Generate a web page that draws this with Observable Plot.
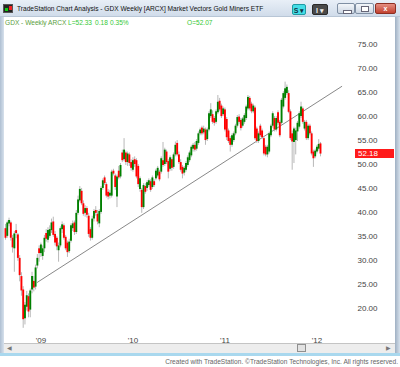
<!DOCTYPE html>
<html><head><meta charset="utf-8">
<script src="https://cdn.jsdelivr.net/npm/d3@7"></script>
<script src="https://cdn.jsdelivr.net/npm/@observablehq/plot@0.6"></script>
<style>
html,body{margin:0;padding:0;background:#fff;}
body{width:400px;height:367px;position:relative;overflow:hidden;font-family:"Liberation Sans",Arial,sans-serif;}
.abs{position:absolute;}
#titlebar{left:0;top:0;width:400px;height:17px;background:linear-gradient(#e8eff7,#d0dcea);border-bottom:1px solid #b8c6d6;box-sizing:border-box;}
#title{left:17px;top:1px;line-height:16px;font-size:6.6px;color:#111;white-space:nowrap;}
#icon{left:3px;top:4px;width:10px;height:9px;background:#222;border:1px solid #555;box-sizing:border-box;}
#icon:before{content:"";position:absolute;left:1px;top:3px;width:3px;height:3px;background:#1c1;}
#icon:after{content:"";position:absolute;left:5px;top:1px;width:3px;height:4px;background:#e22;}
.btn{top:4px;height:11px;border-radius:2px;font-size:7px;line-height:11px;text-align:center;font-weight:bold;box-sizing:border-box;}
#btnS{left:292px;width:14px;background:#45dde6;border:1px solid #1f9aa3;color:#134;}
#btnI{left:312px;width:16px;background:#4a4a4a;border:1px solid #2a2a2a;color:#eee;}
.win{top:3px;height:11px;border:1px solid #7f8fa3;border-radius:2px;box-sizing:border-box;background:linear-gradient(#f3f6fa,#cdd7e3);}
#wmin{left:337px;width:18px;}
#wmax{left:355px;width:19px;}
#wcls{left:375px;width:21px;background:linear-gradient(#e58f82,#c2412f);border-color:#8d2f22;color:#fff;font-size:7px;line-height:9px;text-align:center;font-weight:bold;}
#wmin:after{content:"";position:absolute;left:5px;top:6px;width:7px;height:2px;background:#fff;border:1px solid #667;}
#wmax:after{content:"";position:absolute;left:5px;top:2px;width:6px;height:4px;border:1px solid #667;background:#fff;}
#lframe{left:0;top:17px;width:4px;height:338px;background:linear-gradient(90deg,#aebfd2,#d7e1ec);}
#rframe{left:395px;top:17px;width:5px;height:338px;background:linear-gradient(90deg,#9fb0c3,#d7e1ec);}
.hdr{top:19px;font-size:6.6px;line-height:8px;white-space:nowrap;}
.sym{color:#5a9e3c;}
.val{color:#35c935;}
#chart{left:0;top:18px;width:395px;}
#scroll{left:4px;top:343px;width:391px;height:10px;background:#ededed;border-top:1px solid #c4c4c4;box-sizing:border-box;}
#thumb{left:297px;top:344px;width:9px;height:8px;background:#e2e2e2;border:1px solid #8f8f8f;box-sizing:border-box;}
.arr{top:343px;font-size:6px;line-height:10px;color:#777;}
#bline{left:0;top:353px;width:400px;height:3px;background:#a9d8ee;}
#footer{right:2px;top:357px;font-size:6.6px;line-height:10px;color:#666;white-space:nowrap;}
#lastlbl{left:355px;width:39px;height:9px;background:#ff1a1a;color:#fff;font-size:8px;line-height:9px;box-sizing:border-box;padding-left:3px;}
</style></head>
<body>
<div id="titlebar" class="abs"></div>
<div id="icon" class="abs"></div>
<div id="title" class="abs"></div>
<div id="btnS" class="abs btn">S ▾</div>
<div id="btnI" class="abs btn">I ▾</div>
<div id="wmin" class="abs win"></div>
<div id="wmax" class="abs win"></div>
<div id="wcls" class="abs win">x</div>
<div id="lframe" class="abs"></div>
<div id="rframe" class="abs"></div>
<div id="h1" class="abs hdr sym" style="left:5px;"></div>
<div id="h2" class="abs hdr sym" style="left:48px;"></div>
<div id="h3" class="abs hdr val" style="left:68px;"></div>
<div id="h4" class="abs hdr val" style="left:95px;"></div>
<div id="h5" class="abs hdr val" style="left:110px;"></div>
<div id="h6" class="abs hdr val" style="left:187px;"></div>
<div id="chart" class="abs"></div>
<div id="lastlbl" class="abs"></div>
<div id="scroll" class="abs"></div>
<div id="thumb" class="abs"></div>
<div class="abs arr" style="left:7px;">◀</div>
<div class="abs arr" style="left:386px;">▶</div>
<div id="bline" class="abs"></div>
<div id="footer" class="abs"></div>
<script>
const titleText = "TradeStation Chart Analysis - GDX Weekly [ARCX] Market Vectors Gold Miners ETF";
const headerParts = ["GDX - Weekly", "ARCX", "L=52.33", "0.18", "0.35%", "O=52.07"];
const footerText = "Created with TradeStation. \u00a9TradeStation Technologies, Inc. All rights reserved.";
const lastPrice = 52.18;

const opens = [36.6,35.0,37.6,37.8,34.6,32.4,36.2,35.3,30.4,26.6,23.8,17.8,20.2,22.4,19.6,23.8,25.6,24.4,28.8,32.4,
31.4,30.8,32.4,35.6,34.2,35.0,36.2,38.0,35.4,34.6,32.0,33.0,36.4,37.2,34.8,33.6,31.8,34.0,36.6,37.8,
35.8,39.8,42.4,44.4,41.8,39.8,40.8,39.2,36.4,34.6,38.6,40.4,39.6,37.6,40.0,45.0,47.2,45.8,44.2,43.4,
43.4,48.6,47.6,43.2,48.6,47.4,52.4,51.0,52.4,50.4,52.0,50.4,48.8,51.0,50.8,49.6,44.8,44.6,41.0,45.4,
45.0,45.6,46.4,45.2,46.4,47.0,47.6,48.4,48.4,50.8,50.0,52.6,50.6,49.0,51.0,49.4,52.0,54.4,52.0,50.4,
49.4,48.2,48.8,49.8,50.8,51.8,53.2,54.0,53.2,54.4,56.4,57.6,56.6,57.2,55.2,57.2,60.0,60.4,59.6,58.8,
60.8,63.2,62.2,60.4,61.4,59.4,57.0,55.4,54.0,55.0,56.4,58.0,59.9,59.2,58.0,58.8,59.6,61.6,63.8,62.6,
61.0,61.8,57.4,54.8,58.0,57.0,55.4,53.6,52.0,52.6,56.0,58.0,59.6,57.2,60.8,58.8,58.6,62.0,63.8,64.8,
64.8,61.0,56.4,54.6,55.0,56.8,57.8,60.0,61.6,57.4,58.8,55.4,58.0,56.4,52.6,51.6,52.6,53.2,54.3];
const highs = [37.5,38.2,38.8,38.2,35.2,36.0,37.5,35.6,31.0,27.4,24.5,21.2,23.5,23.0,24.0,27.5,26.6,29.0,31.2,33.0,
33.6,33.0,35.2,36.4,36.8,37.2,38.6,39.0,36.0,35.0,33.6,37.0,38.0,37.6,35.2,34.0,34.4,37.6,38.2,38.2,
40.4,43.4,45.4,45.0,42.4,41.4,41.2,39.8,36.8,39.2,40.6,41.2,40.4,40.6,45.4,47.0,47.6,46.2,44.8,44.6,
48.8,49.0,48.0,47.8,49.6,50.2,53.0,55.4,52.8,52.6,52.4,51.0,51.4,51.6,51.2,50.0,47.4,45.0,46.0,46.0,
46.6,47.0,46.8,47.6,46.8,49.0,49.6,48.8,51.6,54.6,53.4,53.0,51.0,51.8,51.4,52.4,54.7,55.0,52.6,51.0,
49.8,49.6,50.6,51.8,52.8,54.0,54.4,54.6,55.2,56.8,57.6,58.0,58.0,57.6,57.6,61.0,62.7,61.2,60.0,61.4,
64.4,63.8,62.6,62.0,61.8,59.8,57.4,55.8,56.4,56.8,58.4,60.2,60.4,59.6,59.8,60.6,62.4,64.4,64.2,63.0,
62.6,62.2,57.8,56.8,58.4,57.4,55.8,54.0,54.0,56.8,58.4,61.0,60.0,60.0,61.2,59.2,63.8,65.2,67.2,66.6,
65.4,61.4,57.0,57.8,57.6,59.0,61.0,63.0,62.0,59.2,59.2,58.4,58.4,56.8,53.0,53.2,54.0,55.2,54.6];
const lows = [34.2,34.6,37.0,34.0,31.5,27.5,34.5,29.8,25.5,22.5,15.8,16.5,19.4,18.0,18.0,23.0,23.4,23.8,28.2,29.6,
30.6,30.0,31.6,33.8,33.6,34.6,35.6,34.8,33.0,32.0,29.6,32.6,35.6,34.2,32.0,30.6,31.4,33.6,36.0,35.2,
35.4,39.4,42.0,41.4,39.2,39.0,38.8,34.8,34.0,34.2,38.0,39.2,37.4,36.8,39.6,44.6,45.6,43.0,42.6,42.8,
43.0,47.6,44.6,41.0,46.8,47.0,50.4,50.6,49.8,49.6,49.6,48.6,48.4,49.4,47.0,45.2,44.2,39.8,40.6,43.8,
44.4,45.2,44.2,44.8,45.2,46.6,47.2,46.4,48.0,49.4,49.6,50.0,47.0,48.6,48.6,49.0,51.6,51.6,50.0,48.4,
47.0,47.6,48.4,49.4,50.4,51.4,52.6,52.6,52.8,54.0,56.0,56.0,56.2,54.0,54.8,56.8,59.6,58.4,58.0,58.4,
60.4,61.0,59.6,60.0,56.8,55.0,54.4,52.6,53.6,54.6,56.0,57.6,58.4,57.0,57.6,58.4,59.2,61.2,61.2,60.6,
60.6,55.0,54.4,54.4,55.6,55.2,51.8,51.6,51.4,52.2,55.6,57.6,56.8,56.8,58.2,55.6,58.2,61.6,63.4,64.4,
60.6,55.0,48.8,50.2,52.0,54.8,57.4,59.6,58.4,57.0,55.0,55.0,56.0,51.8,49.4,51.2,52.2,52.8,51.6];
const closes = [34.6,37.8,38.3,34.6,32.6,35.5,35.6,30.4,26.8,23.6,17.6,20.6,22.6,19.2,23.6,26.6,24.2,28.4,30.4,31.4,
33.2,32.4,34.6,34.4,36.2,36.4,37.8,35.2,33.6,32.8,33.0,36.6,37.4,34.6,32.4,31.6,33.8,37.2,37.6,35.8,
39.8,42.6,44.8,41.8,39.6,40.8,39.4,35.4,34.6,38.6,40.2,39.8,38.0,40.2,45.0,46.6,46.0,43.4,43.2,44.0,
48.4,48.0,45.2,47.4,47.2,49.8,50.8,53.0,50.4,52.2,50.2,49.2,50.8,50.0,47.4,45.8,47.0,41.0,45.6,44.2,
46.2,46.6,44.6,47.2,45.6,48.6,49.2,46.8,51.2,49.8,53.0,50.4,48.4,51.4,49.2,52.0,54.0,52.0,50.4,48.8,
48.0,49.2,50.2,51.4,52.4,53.6,54.0,53.0,54.8,56.4,57.2,56.4,57.4,55.0,57.2,60.6,61.4,58.8,58.6,61.0,
63.0,61.4,60.0,61.6,57.2,55.6,54.8,54.0,56.0,56.4,58.0,59.8,58.8,57.5,59.5,60.2,62.0,64.0,61.6,61.0,
62.2,55.4,54.8,56.4,56.0,55.6,52.2,52.0,53.6,56.4,58.0,60.6,57.2,59.6,58.6,56.0,63.4,64.8,65.8,66.1,
60.9,55.4,54.7,57.4,57.0,58.6,60.6,62.0,58.8,58.8,55.4,58.0,56.4,52.2,51.2,52.8,53.6,54.2,52.18];

const firstWeek = [2008, 7, 22]; // week ending Fri 22 Aug 2008
const dates = closes.map((_, i) => new Date(Date.UTC(firstWeek[0], firstWeek[1], firstWeek[2] + 7 * i)));
const bars = closes.map((c, i) => ({date: dates[i], open: opens[i], high: highs[i], low: lows[i], close: c}));

const yearTickDates = ["2009-01-09", "2010-01-08", "2011-01-07", "2012-01-06"].map(s => new Date(s));
const priceTicks = [20, 25, 30, 35, 40, 45, 50, 55, 60, 65, 70, 75];
const trendDates = ["2008-12-26", "2012-04-13"].map(s => new Date(s));
const trendPrices = [25.4, 66.3];
const trend = trendDates.map((d, i) => ({date: d, price: trendPrices[i]}));

document.getElementById("title").textContent = titleText;
headerParts.forEach((t, i) => { document.getElementById("h" + (i + 1)).textContent = t; });
document.getElementById("footer").textContent = footerText;

const chart = Plot.plot({
  width: 395,
  height: 327,
  marginTop: 0,
  marginLeft: 0,
  marginRight: 41,
  marginBottom: 14,
  style: {background: "transparent", fontFamily: "'Liberation Sans', Arial, sans-serif", fontSize: "8px", overflow: "visible"},
  x: {type: "utc", domain: [dates[0], dates[dates.length - 1]], range: [5, 320]},
  y: {domain: [20, 75], range: [289.7, 26.25]},
  marks: [
    Plot.line(trend, {x: "date", y: "price", stroke: "#555", strokeWidth: 0.7}),
    Plot.ruleX(bars, {x: "date", y1: "low", y2: "high", stroke: "#b8b8b8", strokeWidth: 1}),
    Plot.ruleX(bars, {x: "date", y1: "open", y2: "close", stroke: d => d.close >= d.open ? "#008000" : "#ff0000", strokeWidth: 1.9}),
    Plot.axisX(yearTickDates, {tickSize: 0, tickPadding: 6, tickFormat: d => "'" + String(d.getUTCFullYear()).slice(2), fill: "#444", fontSize: 8, label: null}),
    Plot.axisY(priceTicks, {anchor: "right", tickSize: 0, tickPadding: 3, tickFormat: d => d.toFixed(2), fill: "#444", fontSize: 8, label: null})
  ]
});
document.getElementById("chart").appendChild(chart);

const yPix = chart.scale("y").apply(lastPrice);
const lbl = document.getElementById("lastlbl");
lbl.style.top = (18 + yPix - 4.5) + "px";
lbl.textContent = lastPrice.toFixed(2);
</script>
</body></html>
